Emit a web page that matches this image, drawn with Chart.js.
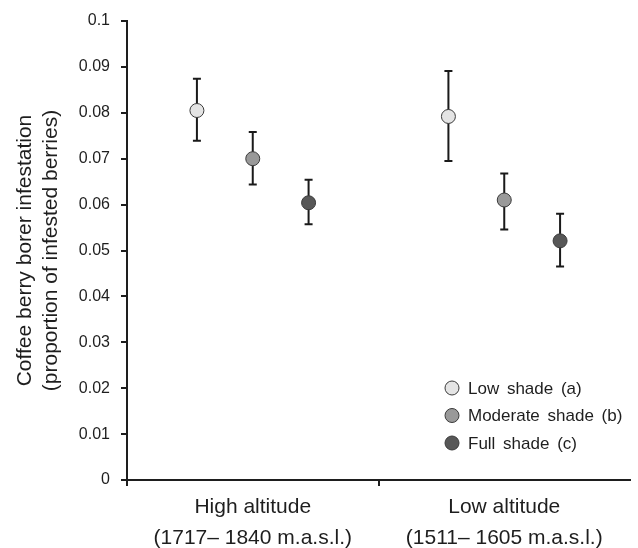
<!DOCTYPE html>
<html><head><meta charset="utf-8">
<script src="https://cdn.jsdelivr.net/npm/chart.js@4/dist/chart.umd.min.js"></script>
<style>html,body{margin:0;padding:0;background:#fff}</style>
</head><body>
<canvas id="c" width="638" height="548"></canvas>
<script>
// ---- data ----
const groupNames = ['High altitude', 'Low altitude'];
const groupRanges = ['(1717\u2013 1840 m.a.s.l.)', '(1511\u2013 1605 m.a.s.l.)'];
const shadeLabels = ['Low shade (a)', 'Moderate shade (b)', 'Full shade (c)'];
const lowShadeMean = [0.0805, 0.0792];
const lowShadeUpper = [0.0874, 0.0891];
const lowShadeLower = [0.0739, 0.0695];
const moderateShadeMean = [0.0700, 0.0610];
const moderateShadeUpper = [0.0758, 0.0668];
const moderateShadeLower = [0.0644, 0.0546];
const fullShadeMean = [0.0604, 0.0521];
const fullShadeUpper = [0.0654, 0.0580];
const fullShadeLower = [0.0557, 0.0465];
const yTickValues = [0, 0.01, 0.02, 0.03, 0.04, 0.05, 0.06, 0.07, 0.08, 0.09, 0.1];
const yTitle = ['Coffee berry borer infestation', '(proportion of infested berries)'];

// ---- styling ----
const FONT = "'Liberation Sans', Arial, Helvetica, sans-serif";
const INK = '#1e1e1e';
const fills = ['#e4e4e4', '#999999', '#575757'];
const offsets = [-0.222, 0, 0.222];

const means = [lowShadeMean, moderateShadeMean, fullShadeMean];
const uppers = [lowShadeUpper, moderateShadeUpper, fullShadeUpper];
const lowers = [lowShadeLower, moderateShadeLower, fullShadeLower];

const datasets = means.map((m, s) => ({
  label: shadeLabels[s],
  data: m.map((v, g) => ({x: g + 0.5 + offsets[s], y: v})),
  upper: uppers[s],
  lower: lowers[s],
  backgroundColor: fills[s],
  borderColor: '#3a3a3a',
  borderWidth: 1,
  pointRadius: 7,
  pointHoverRadius: 7,
  showLine: false
}));

const errorBars = {
  id: 'errorBars',
  beforeDatasetsDraw(chart) {
    const ctx = chart.ctx, y = chart.scales.y;
    ctx.save();
    ctx.strokeStyle = '#1a1a1a';
    ctx.lineWidth = 2;
    chart.data.datasets.forEach((ds, di) => {
      chart.getDatasetMeta(di).data.forEach((pt, i) => {
        const x = pt.x;
        const yt = y.getPixelForValue(ds.upper[i]);
        const yb = y.getPixelForValue(ds.lower[i]);
        ctx.beginPath();
        ctx.moveTo(x, yt); ctx.lineTo(x, yb);
        ctx.moveTo(x - 4, yt); ctx.lineTo(x + 4, yt);
        ctx.moveTo(x - 4, yb); ctx.lineTo(x + 4, yb);
        ctx.stroke();
      });
    });
    ctx.restore();
  }
};

const innerLegend = {
  id: 'innerLegend',
  afterDraw(chart) {
    const ctx = chart.ctx, a = chart.chartArea;
    ctx.save();
    ctx.font = '17px ' + FONT;
    ctx.textBaseline = 'middle';
    ctx.textAlign = 'left';
    try { ctx.wordSpacing = '3px'; } catch (e) {}
    chart.data.datasets.forEach((ds, i) => {
      const cy = a.bottom - 92 + i * 27.5;
      const cx = a.left + 325;
      ctx.beginPath();
      ctx.arc(cx, cy, 7, 0, Math.PI * 2);
      ctx.fillStyle = ds.backgroundColor;
      ctx.fill();
      ctx.lineWidth = 1;
      ctx.strokeStyle = '#3a3a3a';
      ctx.stroke();
      ctx.fillStyle = INK;
      ctx.fillText(ds.label, cx + 16, cy + 1);
    });
    ctx.restore();
  }
};

new Chart(document.getElementById('c'), {
  type: 'scatter',
  data: { datasets },
  plugins: [errorBars, innerLegend],
  options: {
    responsive: false,
    animation: false,
    events: [],
    layout: { padding: { top: 21, right: 5, bottom: 0, left: 0 } },
    plugins: { legend: { display: false }, tooltip: { enabled: false } },
    scales: {
      x: {
        type: 'linear',
        min: 0, max: 2,
        afterBuildTicks: (ax) => { ax.ticks = [0, 0.5, 1, 1.5, 2].map(v => ({value: v})); },
        afterFit: (ax) => { ax.height = 68; },
        border: { display: true, color: INK, width: 2 },
        grid: {
          drawOnChartArea: false, drawTicks: true, tickLength: 6, lineWidth: 2,
          color: (c) => (c.tick && Number.isInteger(c.tick.value) && c.tick.value < 2) ? INK : 'rgba(0,0,0,0)'
        },
        ticks: {
          autoSkip: false, maxRotation: 0, minRotation: 0, padding: 6,
          color: INK,
          font: { family: FONT, size: 21, lineHeight: 1.48 },
          callback: (v) => {
            const g = Math.floor(v);
            return (Math.abs(v - g - 0.5) < 1e-9) ? [groupNames[g], groupRanges[g]] : '';
          }
        }
      },
      y: {
        min: 0, max: 0.1,
        afterBuildTicks: (ax) => { ax.ticks = yTickValues.map(v => ({value: v})); },
        afterFit: (ax) => { ax.width = 127; },
        border: { display: true, color: INK, width: 2 },
        grid: { drawOnChartArea: false, drawTicks: true, tickLength: 6, lineWidth: 2, color: INK },
        ticks: {
          padding: 11, color: INK,
          font: { family: FONT, size: 16 },
          callback: (v) => String(+v.toFixed(2))
        },
        title: {
          display: true, text: yTitle, color: INK,
          font: { family: FONT, size: 21, lineHeight: 1.2 },
          padding: { top: 13, bottom: 0 }
        }
      }
    }
  }
});
</script>
</body></html>
